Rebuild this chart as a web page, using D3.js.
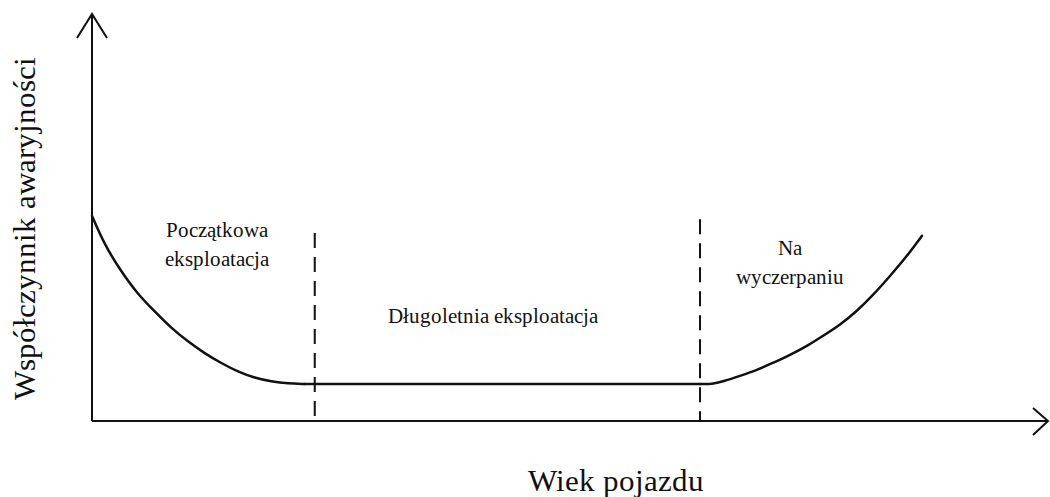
<!DOCTYPE html>
<html>
<head>
<meta charset="utf-8">
<script src="https://cdn.jsdelivr.net/npm/d3@7"></script>
<style>
  @font-face { font-family: "BathSerif"; src: local("Liberation Serif"), local("LiberationSerif"), local("Times New Roman"); }
  @font-face { font-family: "BathSerif"; font-weight: bold; src: local("Liberation Serif Bold"), local("LiberationSerif-Bold"); }
  .serif { font-family: BathSerif, "Liberation Serif", serif; }
</style>
</head>
<body style="margin:0;background:#fff">
<svg id="bathtub" width="1050" height="497" style="display:block"></svg>
<script>
// Bathtub curve: failure rate vs. vehicle age (arbitrary units, 0–100 on both axes)
const ageEarly = [0, 0, 1.33, 3.06, 4.81, 6.56, 8.3, 10.04, 11.79, 13.53, 15.27, 17.02, 18.76, 20.5, 22.25, 22.25];
const rateEarly = [50.4, 50.4, 43.2, 36.7, 31.1, 26.9, 22.8, 19.5, 16.6, 14.2, 12.1, 10.6, 9.7, 9.2, 9.1, 9.1];

const ageUseful = [22.25, 40, 63.6];
const rateUseful = [9.1, 9.1, 9.1];

const ageWearOut = [63.6, 63.6, 64.85, 66.0, 67.78, 69.56, 71.23, 73.01, 74.79, 76.46, 78.24, 80.02, 81.69, 83.47, 85.25, 86.82, 86.82];
const rateWearOut = [9.1, 9.1, 9.0, 9.7, 11.1, 12.5, 14.3, 16.2, 18.4, 20.9, 23.6, 27.0, 30.9, 35.6, 40.5, 45.5, 45.5];

// Phase boundaries (age) and the height of each dashed marker
const boundaryAge = [23.3, 63.6];
const boundaryTop = [46.2, 49.6];

// Phase labels: lines of text, anchor position in data units
const phaseLabels = [
  { lines: ["Początkowa", "eksploatacja"], age: 13.1, rate: 45.2 },
  { lines: ["Długoletnia eksploatacja"], age: 41.9, rate: 24.1 },
  { lines: ["Na", "wyczerpaniu"], age: 73.0, rate: 40.8 }
];

const xTitle = "Wiek pojazdu";
const yTitle = "Współczynnik awaryjności";

const svg = d3.select("#bathtub");
const x = d3.scaleLinear().domain([0, 100]).range([92, 1048]);
const y = d3.scaleLinear().domain([0, 100]).range([421, 14]);

// Apply the serif face to a text selection
function serif(sel, size) {
  sel.attr("class", "serif")
    .attr("font-size", size)
    .attr("fill", "#111");
  return sel;
}

// Axes with open arrow heads
const axisG = svg.append("g").attr("stroke", "#111").attr("stroke-width", 2).attr("fill", "none");
axisG.append("line").attr("x1", x(0)).attr("x2", x(100)).attr("y1", y(0)).attr("y2", y(0));
axisG.append("line").attr("x1", x(0)).attr("x2", x(0)).attr("y1", y(0)).attr("y2", y(100));
axisG.append("path")
  .attr("d", `M${x(0) - 15},${y(100) + 24}L${x(0)},${y(100)}L${x(0) + 15},${y(100) + 24}`);
axisG.append("path")
  .attr("d", `M${x(100) - 15},${y(0) - 13}L${x(100)},${y(0)}L${x(100) - 15},${y(0) + 14}`);

// Dashed phase boundaries
svg.append("g").selectAll("line")
  .data(boundaryAge)
  .join("line")
  .attr("x1", d => x(d)).attr("x2", d => x(d))
  .attr("y1", (d, i) => y(boundaryTop[i]))
  .attr("y2", y(0))
  .attr("stroke", "#111")
  .attr("stroke-width", 2)
  .attr("stroke-dasharray", "15,9");

// Curve segments (end points repeated so the B-spline reaches them)
const line = d3.line().x(d => x(d[0])).y(d => y(d[1])).curve(d3.curveBasis);
const segments = [
  d3.zip(ageEarly, rateEarly),
  d3.zip(ageUseful, rateUseful),
  d3.zip(ageWearOut, rateWearOut)
];
svg.append("g").selectAll("path")
  .data(segments)
  .join("path")
  .attr("d", line)
  .attr("fill", "none")
  .attr("stroke", "#111")
  .attr("stroke-width", 2.5)
  .attr("stroke-linecap", "round");

// Phase labels
const labelRows = phaseLabels.flatMap(p => p.lines.map((t, i) => ({ t, age: p.age, rate: p.rate, i })));
svg.append("g")
  .selectAll("text")
  .data(labelRows)
  .join("text")
  .attr("x", d => x(d.age))
  .attr("y", d => y(d.rate) + d.i * 29)
  .attr("text-anchor", "middle")
  .call(serif, 20.5)
  .text(d => d.t);

// Axis titles
svg.append("text")
  .attr("x", 616).attr("y", 491)
  .attr("text-anchor", "middle")
  .call(serif, 31)
  .text(xTitle);

svg.append("text")
  .attr("transform", "translate(35,228) rotate(-90)")
  .attr("text-anchor", "middle")
  .call(serif, 31)
  .text(yTitle);
</script>
</body>
</html>
